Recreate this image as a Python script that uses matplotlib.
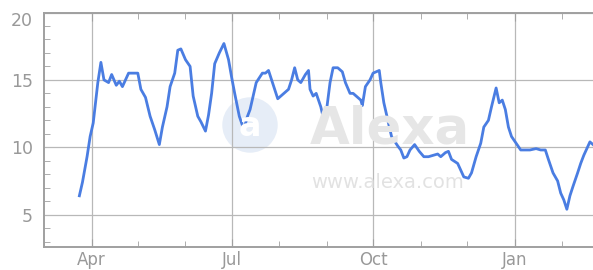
import numpy as np
import pandas as pd
import matplotlib
matplotlib.use("Agg")
import matplotlib.pyplot as plt
import matplotlib.dates as mdates
from matplotlib.patches import Ellipse

# days counted from 1 Apr 2008
day_offsets = [-8, -6, -3, -1, 1, 4, 6, 8, 11, 13, 16, 18, 20, 24, 27, 30, 32, 35, 38, 41,
               44, 46, 49, 51, 54, 56, 58, 61, 64, 66, 69, 71, 74, 76, 78, 80, 83, 86, 89, 91,
               93, 96, 99, 101, 103, 105, 107, 111, 113, 115, 117, 119, 121, 125, 128, 130, 132, 134, 136, 139,
               141, 142, 144, 146, 149, 151, 153, 155, 157, 160, 163, 165, 168, 170, 172, 175, 176, 178, 181, 183,
               187, 188, 190, 192, 195, 199, 201, 203, 205, 207, 210, 213, 216, 219, 222, 225, 227, 230, 232, 234,
               238, 240, 242, 245, 247, 250, 253, 255, 258, 260, 263, 265, 267, 269, 271, 273, 276, 279, 282, 285,
               289, 292, 295, 297, 300, 303, 305, 307, 309, 311, 313, 316, 318, 320, 322, 324, 326]
values = [6.4, 7.4, 9.3, 10.8, 11.8, 14.8, 16.3, 15.0, 14.8, 15.4, 14.6, 14.9, 14.5, 15.5, 15.5, 15.5, 14.3, 13.7, 12.3, 11.3,
          10.2, 11.5, 13.0, 14.5, 15.5, 17.2, 17.3, 16.5, 16.0, 13.8, 12.3, 11.9, 11.2, 12.4, 14.0, 16.2, 17.0, 17.7, 16.5, 15.2,
          14.0, 12.3, 11.3, 12.2, 12.8, 13.8, 14.8, 15.5, 15.5, 15.7, 15.0, 14.3, 13.6, 14.0, 14.3, 15.0, 15.9, 15.0, 14.8, 15.4,
          15.7, 14.3, 13.8, 14.0, 13.0, 12.0, 13.0, 14.8, 15.9, 15.9, 15.6, 14.8, 14.0, 14.0, 13.8, 13.5, 13.1, 14.5, 15.0, 15.5,
          15.7, 14.8, 13.3, 12.3, 10.8, 10.1, 9.8, 9.2, 9.3, 9.8, 10.2, 9.7, 9.3, 9.3, 9.4, 9.5, 9.3, 9.6, 9.7, 9.1,
          8.8, 8.3, 7.8, 7.7, 8.1, 9.3, 10.3, 11.5, 12.0, 13.0, 14.4, 13.3, 13.5, 12.8, 11.5, 10.8, 10.3, 9.8, 9.8, 9.8,
          9.9, 9.8, 9.8, 9.1, 8.1, 7.5, 6.6, 6.1, 5.4, 6.4, 7.1, 8.1, 8.8, 9.4, 9.9, 10.4, 10.2]

dates = pd.Timestamp("2008-04-01") + pd.to_timedelta(day_offsets, unit="D")

grey = "#a0a0a0"
fig = plt.figure(figsize=(5.93, 2.70), dpi=100)
ax = fig.add_axes([44 / 593, 1 - 247 / 270, 1 - 44 / 593, (247 - 12.5) / 270])

# alexa watermark
ax.add_patch(Ellipse((250 / 593, 1 - 125 / 270), 54 / 593, 54 / 270, transform=fig.transFigure,
                     color="#e6edf7", zorder=0))
fig.text(250 / 593, 1 - 127 / 270, "a", ha="center", va="center", fontsize=24,
         color="white", fontweight="bold", zorder=1)
fig.text(390 / 593, 1 - 130 / 270, "Alexa", ha="center", va="center", fontsize=37,
         color="#e6e6e6", fontweight="bold", zorder=1)
fig.text(388 / 593, 1 - 182 / 270, "www.alexa.com", ha="center", va="center", fontsize=14,
         color="#e2e2e2", zorder=1)
ax.patch.set_alpha(0)

ax.plot(dates, values, color="#4a7de2", lw=2, zorder=3)

ax.set_xlim(pd.Timestamp("2008-03-01"), pd.Timestamp("2009-02-21"))
ax.set_ylim(2.6, 20)

ax.xaxis.set_major_locator(mdates.MonthLocator(bymonth=[1, 4, 7, 10]))
ax.xaxis.set_minor_locator(mdates.MonthLocator())
ax.xaxis.set_major_formatter(mdates.DateFormatter("%b"))
ax.set_yticks([5, 10, 15, 20])
ax.set_yticks(np.arange(3, 20), minor=True)

ax.grid(True, which="major", color="#b8b8b8", lw=0.9, zorder=2)
for s in ["left", "bottom", "top"]:
    ax.spines[s].set_color(grey)
    ax.spines[s].set_linewidth(1.4)
ax.spines["right"].set_visible(False)

ax.tick_params(axis="x", which="both", direction="in", top=True, colors=grey,
               labelcolor="#999999", labelsize=12, pad=3)
ax.tick_params(axis="x", which="major", length=6)
ax.tick_params(axis="x", which="minor", length=4)
ax.tick_params(axis="y", which="both", direction="in", colors=grey,
               labelcolor="#999999", labelsize=12.5, pad=8)
ax.tick_params(axis="y", which="major", length=0)
ax.tick_params(axis="y", which="minor", length=4)
ax.get_yticklabels()[-1].set_va("top")

fig.savefig("out.png", dpi=100)
